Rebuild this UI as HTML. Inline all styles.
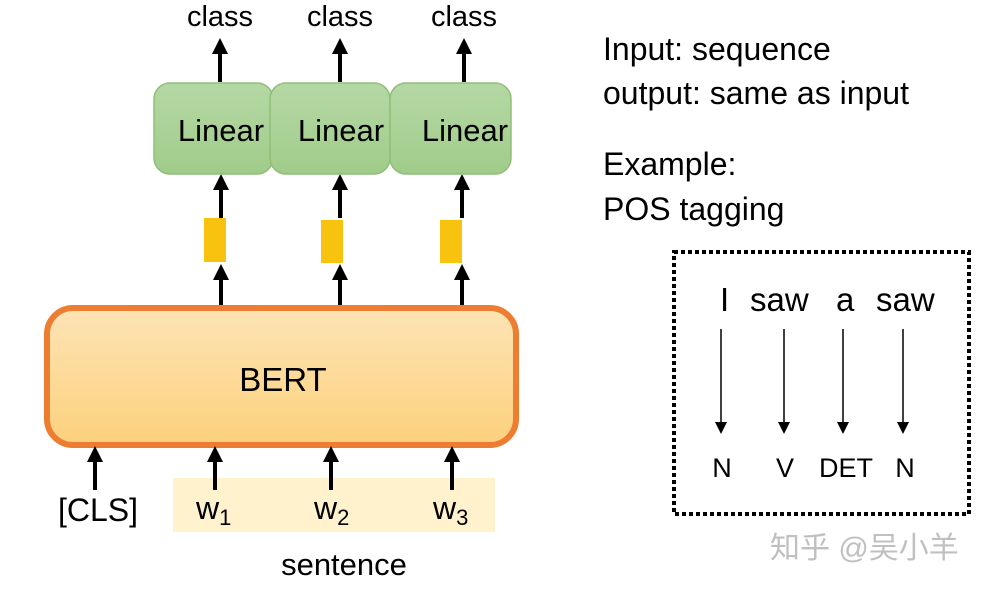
<!DOCTYPE html>
<html><head><meta charset="utf-8"><style>
body{margin:0;background:#fff;}
svg text{font-family:"Liberation Sans","Noto Sans CJK SC",sans-serif;}
</style></head><body>
<svg width="1008" height="587" viewBox="0 0 1008 587" xmlns="http://www.w3.org/2000/svg">
<defs>
<marker id="ah" markerWidth="4" markerHeight="4" refX="2" refY="2" orient="auto" markerUnits="strokeWidth"><path d="M0,0 L4,2 L0,4z" fill="#000"/></marker>
<marker id="sh" markerWidth="8" markerHeight="8" refX="4" refY="4" orient="auto" markerUnits="strokeWidth"><path d="M0,0 L8,4 L0,8z" fill="#000"/></marker>
<linearGradient id="og" x1="0" y1="0" x2="0" y2="1"><stop offset="0" stop-color="#fde3b5"/><stop offset="1" stop-color="#fdd17c"/></linearGradient>
<linearGradient id="gg" x1="0" y1="0" x2="0" y2="1"><stop offset="0" stop-color="#b5d8a5"/><stop offset="1" stop-color="#a0cc8a"/></linearGradient>
</defs>
<g font-size="29" text-anchor="middle" fill="#000">
<text x="220" y="26">class</text><text x="340" y="26">class</text><text x="464" y="26">class</text>
</g>
<g stroke="#000" stroke-width="4" marker-end="url(#ah)">
<line x1="220" y1="82" x2="220" y2="46"/><line x1="340" y1="82" x2="340" y2="46"/><line x1="464" y1="82" x2="464" y2="46"/>
<line x1="221" y1="218" x2="221" y2="182"/><line x1="340" y1="218" x2="340" y2="182"/><line x1="462" y1="218" x2="462" y2="182"/>
<line x1="221" y1="307" x2="221" y2="272"/><line x1="340" y1="307" x2="340" y2="272"/><line x1="462" y1="307" x2="462" y2="272"/>
</g>
<g fill="url(#gg)" stroke="#8fbf78" stroke-width="1.5">
<rect x="154" y="83" width="119" height="91" rx="16"/>
<rect x="270" y="83" width="120" height="91" rx="16"/>
<rect x="390" y="83" width="121" height="91" rx="16"/>
</g>
<g font-size="31" text-anchor="middle"><text x="221" y="141">Linear</text><text x="341" y="141">Linear</text><text x="465" y="141">Linear</text></g>
<g fill="#f8c30f"><rect x="204" y="218" width="22" height="44"/><rect x="321" y="220" width="22" height="43"/><rect x="440" y="220" width="22" height="43"/></g>
<rect x="173" y="478" width="322" height="54" fill="#fff2cc"/>
<rect x="47" y="308" width="469" height="137" rx="26" fill="url(#og)" stroke="#ed7d31" stroke-width="6"/>
<text x="283" y="391" font-size="33" text-anchor="middle">BERT</text>
<g stroke="#000" stroke-width="4" marker-end="url(#ah)">
<line x1="95" y1="490" x2="95" y2="454"/><line x1="215" y1="490" x2="215" y2="454"/><line x1="331" y1="490" x2="331" y2="454"/><line x1="452" y1="490" x2="452" y2="454"/>
</g>
<g font-size="32"><text x="58" y="521">[CLS]</text>
<text x="196" y="519">w<tspan font-size="22" dy="6">1</tspan></text>
<text x="314" y="519">w<tspan font-size="22" dy="6">2</tspan></text>
<text x="433" y="519">w<tspan font-size="22" dy="6">3</tspan></text></g>
<text x="344" y="575" font-size="31" text-anchor="middle">sentence</text>
<g font-size="32"><text x="603" y="60">Input: sequence</text><text x="603" y="104">output: same as input</text><text x="603" y="175">Example:</text><text x="603" y="220">POS tagging</text></g>
<rect x="674" y="252" width="295" height="262" fill="none" stroke="#000" stroke-width="4" stroke-dasharray="4 3"/>
<g font-size="33"><text x="720" y="311">I</text><text x="750" y="311">saw</text><text x="836" y="311">a</text><text x="876" y="311">saw</text></g>
<g stroke="#000" stroke-width="1.5" marker-end="url(#sh)">
<line x1="721" y1="329" x2="721" y2="428"/><line x1="784" y1="329" x2="784" y2="428"/><line x1="843" y1="329" x2="843" y2="428"/><line x1="903" y1="329" x2="903" y2="428"/>
</g>
<g font-size="27" text-anchor="middle"><text x="722" y="477">N</text><text x="785" y="477">V</text><text x="846" y="477">DET</text><text x="905" y="477">N</text></g>
<text x="770" y="558" font-size="30" fill="#c0c0c0">知乎 @吴小羊</text>
</svg>
</body></html>
